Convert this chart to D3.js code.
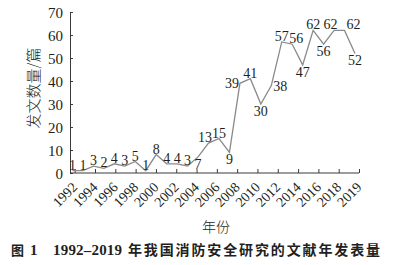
<!DOCTYPE html>
<html>
<head>
<meta charset="utf-8">
<script src="https://cdn.jsdelivr.net/npm/d3@7"></script>
<style>
  body { margin: 0; background: #fff; }
  text { fill: #231f20; }
</style>
</head>
<body>
<svg id="chart"></svg>
<script>
// publications per year
var years = [1992,1993,1994,1995,1996,1997,1998,1999,2000,2001,2002,2003,2004,2005,
             2006,2007,2008,2009,2010,2011,2012,2013,2014,2015,2016,2017,2018,2019]
var counts = [1,1,3,2,4,3,5,1,8,4,4,3,7,13,15,9,39,41,30,38,57,56,47,62,56,62,62,52]
var tickLabels = ["1992","1994","1996","1998","2000","2002","2004","2006","2008",
                  "2010","2012","2014","2016","2018","2019"]
var yTicks = [0,10,20,30,40,50,60,70]
// where the value label sits relative to its point (default above)
var labelSide = {2004:"b", 2005:"a-", 2007:"b", 2008:"l", 2010:"b",
                 2011:"r", 2013:"a+", 2014:"b", 2016:"b", 2017:"a-", 2018:"ar", 2019:"b"}

var width = 404, height = 265

var svg = d3.select("#chart")
    .attr("width", width)
    .attr("height", height)

var x = d3.scalePoint()
    .domain(years)
    .range([72.5, 355])

var xt = d3.scalePoint()
    .domain(tickLabels)
    .range([74.7, 359])

var y = d3.scaleLinear()
    .domain([0, 70])
    .range([173, 12])

var serif = "'Liberation Serif', 'Times New Roman', serif"
var cjk = "'Noto Sans CJK SC', sans-serif"

// x axis
var gx = svg.append("g")
    .attr("transform", "translate(0," + y(0) + ")")
    .call(d3.axisBottom(xt).tickSize(-4).tickSizeOuter(0).tickPadding(0))
gx.select(".domain").attr("d", "M70,0H359").attr("stroke", "#3a3a3a")
gx.selectAll(".tick line").attr("stroke", "#3a3a3a")
gx.selectAll(".tick text")
    .attr("font-family", serif)
    .attr("font-size", "14px")
    .attr("text-anchor", "end")
    .attr("y", 0)
    .attr("dy", 0)
    .attr("transform", "translate(3,15) rotate(-45)")

// y axis
var gy = svg.append("g")
    .attr("transform", "translate(70,0)")
    .call(d3.axisLeft(y).tickValues(yTicks).tickSize(-3).tickSizeOuter(0).tickPadding(7))
gy.select(".domain").attr("stroke", "#3a3a3a")
gy.selectAll(".tick line").attr("stroke", "#3a3a3a")
gy.selectAll(".tick text")
    .attr("font-family", serif)
    .attr("font-size", "15px")
    .attr("dy", "0.34em")

// line
var line = d3.line()
    .x(function(d, i){ return x(years[i]) })
    .y(function(d){ return y(d) })

svg.append("path")
    .datum(counts)
    .attr("d", line)
    .attr("fill", "none")
    .attr("stroke", "#8a8a8a")
    .attr("stroke-width", 1.3)

// value labels
svg.append("g")
    .selectAll("text")
    .data(counts)
    .enter()
    .append("text")
    .attr("font-family", serif)
    .attr("font-size", "14px")
    .attr("text-anchor", function(d, i){
        var s = labelSide[years[i]]
        if (s == "l") return "end"
        if (s == "r" || s == "ar") return "start"
        return "middle"
    })
    .attr("x", function(d, i){
        var s = labelSide[years[i]]
        var px = x(years[i])
        if (s == "l") return px - 1
        if (s == "r" || s == "ar") return px + 2
        if (s == "a-") return px - 3.5
        if (s == "a+") return px + 4
        return px
    })
    .attr("y", function(d, i){
        var s = labelSide[years[i]]
        if (s == "b") return y(d) + 12
        if (s == "l" || s == "r") return y(d) + 5
        return y(d) - 1
    })
    .text(function(d){ return d })

// axis titles
svg.append("text")
    .attr("transform", "translate(39,88) rotate(-90)")
    .attr("text-anchor", "middle")
    .attr("font-family", cjk)
    .attr("font-size", "15px")
    .attr("font-weight", 300)
    .text("发文数量/篇")

svg.append("text")
    .attr("x", 216)
    .attr("y", 232)
    .attr("text-anchor", "middle")
    .attr("font-family", cjk)
    .attr("font-size", "14px")
    .attr("font-weight", 300)
    .text("年份")

// caption
var cap = svg.append("g").attr("font-weight", "bold").attr("font-size", "14px")
cap.append("text").attr("x", 11).attr("y", 255).attr("font-family", cjk).attr("font-size", "13px").text("图")
cap.append("text").attr("x", 30).attr("y", 255).attr("font-family", serif).attr("font-size", "15px").text("1")
cap.append("text").attr("x", 53).attr("y", 255).attr("font-family", serif).attr("font-size", "15px")
    .attr("textLength", 69).text("1992–2019")
cap.append("text").attr("x", 128).attr("y", 255).attr("font-family", cjk)
    .attr("textLength", 252).text("年我国消防安全研究的文献年发表量")
</script>
</body>
</html>
